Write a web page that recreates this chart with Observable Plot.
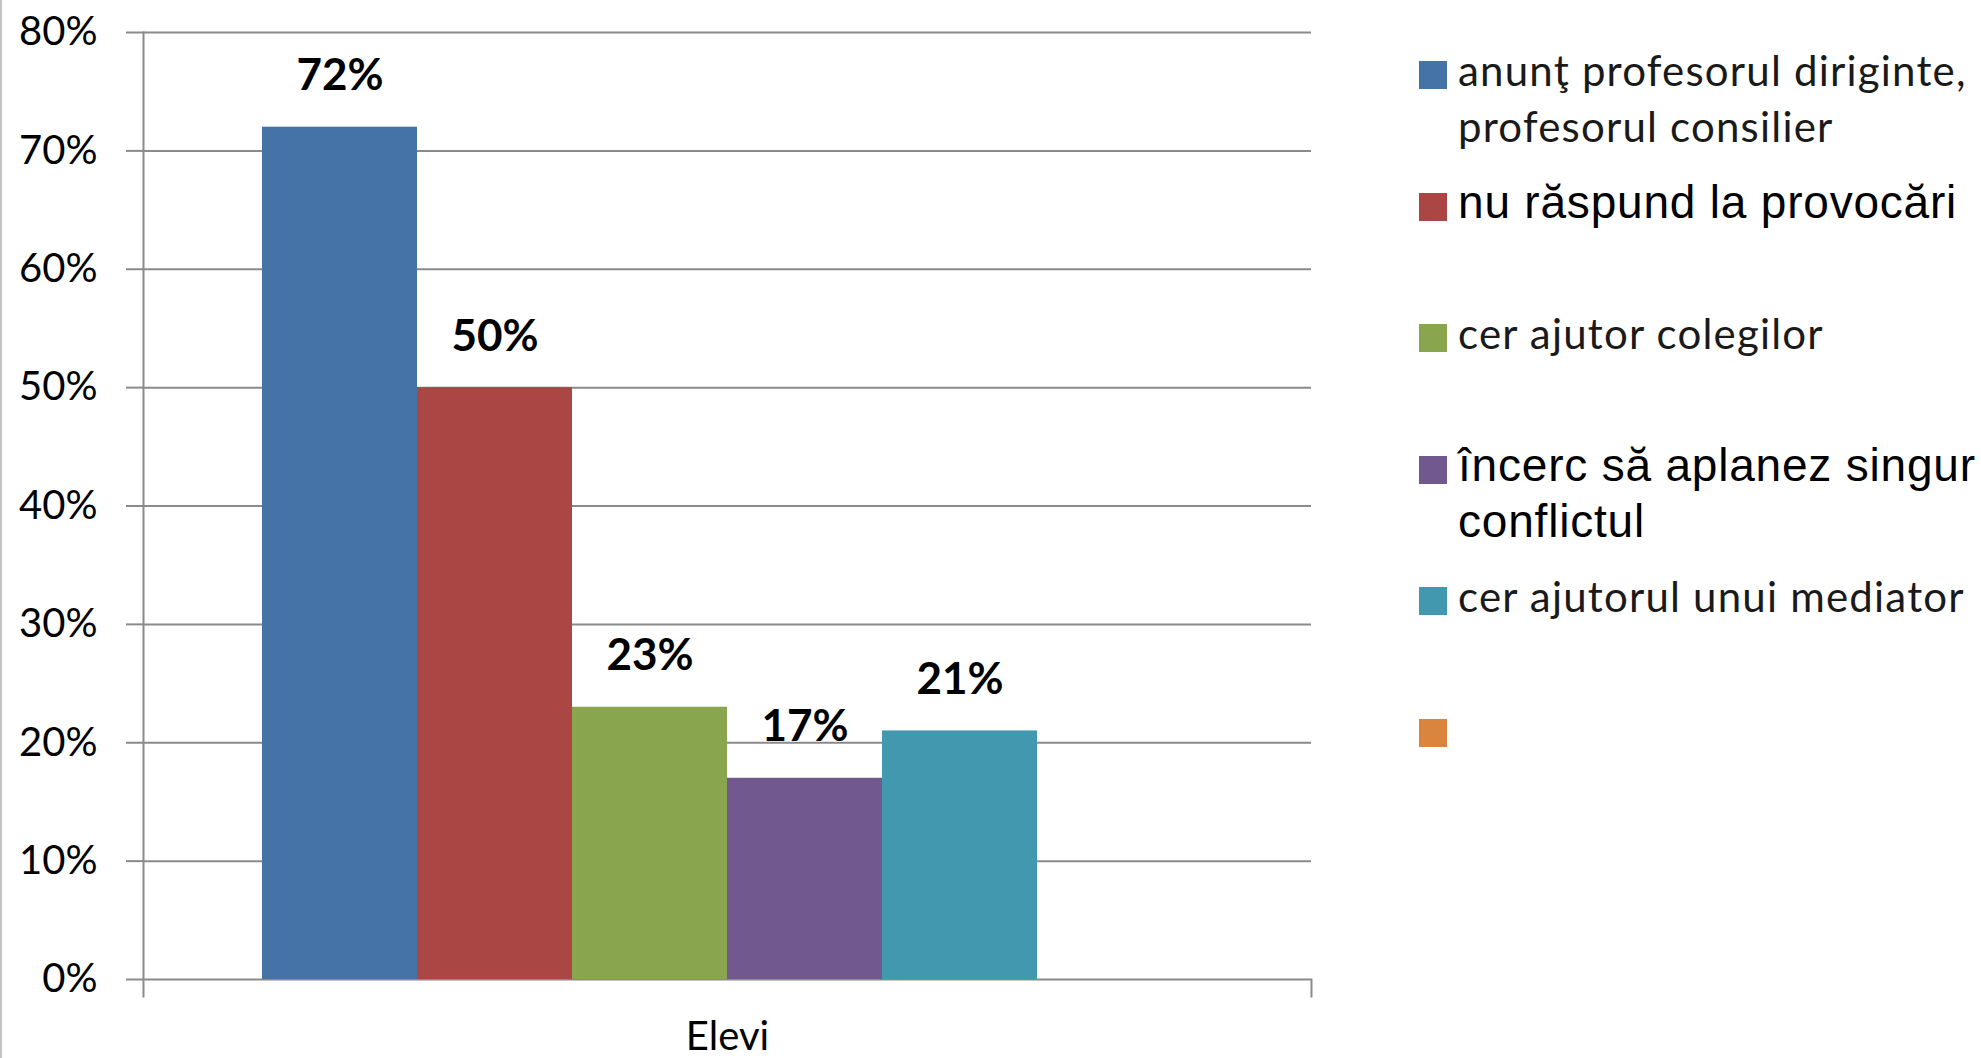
<!DOCTYPE html>
<html><head><meta charset="utf-8">
<script src="https://cdn.jsdelivr.net/npm/d3@7"></script>
<script src="https://cdn.jsdelivr.net/npm/@observablehq/plot@0.6"></script>
<style>
html,body{margin:0;padding:0;background:#fff;}
#wrap{position:relative;width:1981px;height:1058px;overflow:hidden;}
#edge{position:absolute;left:0;top:0;width:2px;height:1058px;background:#c4c4c4;}
#legend{position:absolute;left:1419px;top:42px;}
.item{display:flex;align-items:baseline;height:131.6px;}
.sw{width:28px;height:28px;margin-right:11px;flex:none;position:relative;top:3px;}
.lab{width:525px;line-height:56px;white-space:normal;}
</style></head>
<body><div id="wrap"><div id="chart"></div><div id="edge"></div><div id="legend"></div></div>
<script>
const categories = ["Elevi"];
const series = [
  "anunţ profesorul diriginte, profesorul consilier",
  "nu răspund la provocări",
  "cer ajutor colegilor",
  "încerc să aplanez singur conflictul",
  "cer ajutorul unui mediator",
  ""
];
const values = [0.72, 0.50, 0.23, 0.17, 0.21, null];
const colors = ["#4572A7", "#AA4643", "#89A54E", "#71588F", "#4198AF", "#DB843D"];
const legendFonts = ["Lato", "Liberation Sans", "Lato", "Liberation Sans", "Lato", "Lato"];
const legendSizes = [42, 46, 42, 46, 42, 42];
const legendSpacing = [1.2, 0.8, 1.2, 0.8, 1.2, 1.2];
const legendColors = ["#1a1a1a", "#000", "#1a1a1a", "#000", "#1a1a1a", "#1a1a1a"];
const yTicks = [0, 0.1, 0.2, 0.3, 0.4, 0.5, 0.6, 0.7, 0.8];

const rows = series.map((s, i) => ({category: categories[0], series: s, value: values[i]}))
  .filter(d => d.value != null);

const pct = d3.format(".0%");
const axisGrey = "#8a8a8a";

const plot = Plot.plot({
  width: 1981, height: 1058,
  marginLeft: 143, marginRight: 670, marginTop: 32, marginBottom: 79,
  style: {fontFamily: "Lato, 'Open Sans', sans-serif", fontSize: "40px", color: "#000", background: "transparent", overflow: "visible"},
  fx: {domain: categories, paddingInner: 0, paddingOuter: 0, label: null},
  x: {domain: series, paddingInner: 0, paddingOuter: 0.75, axis: null},
  y: {domain: [0, 0.8], label: null},
  color: {domain: series, range: colors},
  marks: [
    Plot.gridY(yTicks, {stroke: axisGrey, strokeOpacity: 1, strokeWidth: 2}),
    Plot.axisY(yTicks, {tickSize: 17, tickPadding: 29, tickFormat: pct, stroke: axisGrey, strokeWidth: 2, label: null}),
    Plot.axisFx({anchor: "bottom", tickSize: 0, tickPadding: 42, label: null}),
    Plot.frame({anchor: "left", insetBottom: -17, stroke: axisGrey, strokeWidth: 2}),
    Plot.frame({anchor: "right", insetTop: 947, insetBottom: -17, stroke: axisGrey, strokeWidth: 2}),
    Plot.barY(rows, {fx: "category", x: "series", y: "value", fill: "series"}),
    Plot.text(rows, {fx: "category", x: "series", y: "value", text: d => pct(d.value), dy: -51, lineAnchor: "middle", fontWeight: "bold", fontSize: 44, fill: "#000"})
  ]
});
document.getElementById("chart").appendChild(plot);

const legend = d3.select("#legend");
series.forEach((s, i) => {
  const item = legend.append("div").attr("class", "item");
  item.append("span").attr("class", "sw").style("background", colors[i]);
  item.append("div").attr("class", "lab")
    .style("font-family", legendFonts[i])
    .style("font-size", legendSizes[i] + "px")
    .style("letter-spacing", legendSpacing[i] + "px")
    .style("color", legendColors[i])
    .text(s === "" ? "\u00a0" : s);
});
</script>
</body></html>
